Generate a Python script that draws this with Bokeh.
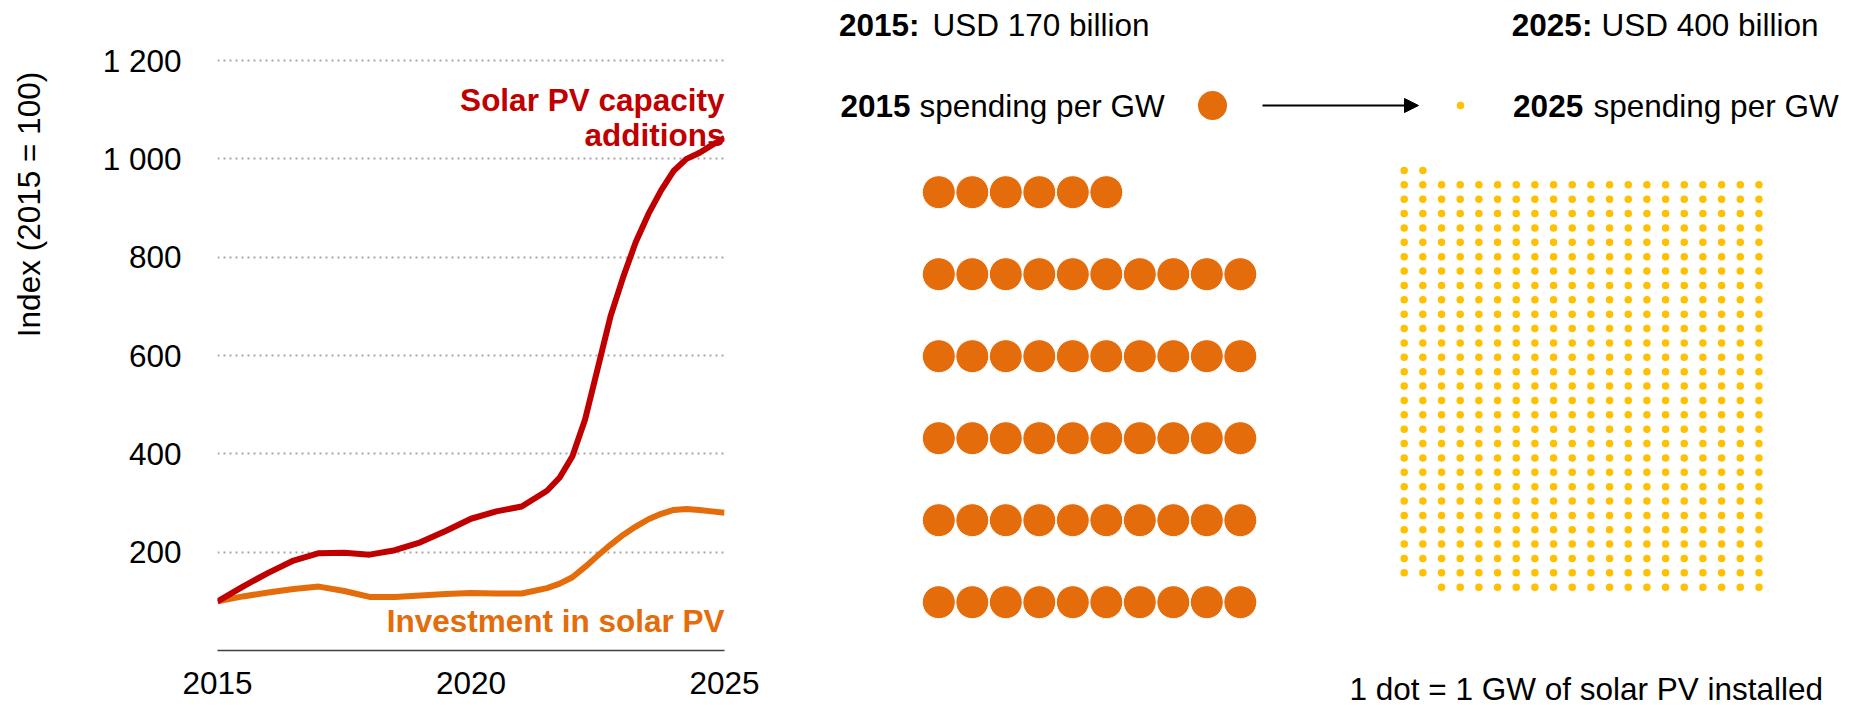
import math
from bokeh.plotting import figure
from bokeh.models import (Range1d, FixedTicker, Label, Arrow, NormalHead, Title,
                          CustomJSTickFormatter)
from bokeh.layouts import row
from bokeh.embed import file_html
from bokeh.resources import INLINE
from bokeh.core.properties import value

FONT = "Liberation Sans"
FS = "31.5px"
RED = "#C00000"
ORANGE = "#E46C0A"
YELLOW = "#FFC000"

# ---------------- data ----------------
years = [2015, 2015.5, 2016, 2016.5, 2017, 2017.5, 2018, 2018.5, 2019, 2019.5,
         2020, 2020.5, 2021, 2021.5, 2021.75, 2022, 2022.25, 2022.5, 2022.75,
         2023, 2023.25, 2023.5, 2023.75, 2024, 2024.25, 2024.5, 2024.75, 2025]
capacity_index = [100, 130, 158, 183, 198, 199, 195, 204, 220, 243,
                  268, 283, 293, 325, 352, 395, 470, 574, 679,
                  759, 831, 888, 936, 976, 1000, 1012, 1028, 1043]
investment_index = [100, 110, 118, 125, 130, 121, 109, 109, 112, 115,
                    117, 116, 116, 127, 136, 149, 170, 193, 215,
                    235, 252, 267, 278, 286, 288, 286, 283, 280]
y_ticks = [200, 400, 600, 800, 1000, 1200]
x_ticks = [2015, 2020, 2025]

spend_2015_bn = 170
spend_2025_bn = 400
gw_2015 = 56
gw_2025 = 580
cols_2015 = 10
cols_2025 = 20
top_row_2025 = 2
footnote = "1 dot = 1 GW of solar PV installed"

TOP, BOTTOM, H = 5, 55, 705


def blank(p):
    p.grid.visible = False
    p.outline_line_color = None
    p.background_fill_color = "white"
    p.border_fill_color = "white"


# ---------------- y-axis title strip ----------------
p0 = figure(width=60, height=H, x_range=Range1d(0, 60), y_range=Range1d(H - BOTTOM, TOP),
            output_backend="svg", toolbar_location=None,
            min_border_left=0, min_border_right=0, min_border_top=TOP, min_border_bottom=BOTTOM,
            x_axis_location=None, y_axis_location=None)
blank(p0)
p0.text([28], [204], text=["Index (2015 = 100)"], angle=math.pi / 2,
        text_font=value(FONT), text_font_size=FS, text_align="center",
        text_baseline="middle", text_color="black")

# ---------------- left chart ----------------
p1 = figure(width=708, height=H, x_range=Range1d(2015, 2025), y_range=Range1d(0, 1312),
            output_backend="svg", toolbar_location=None,
            min_border_left=157, min_border_right=44, min_border_top=TOP, min_border_bottom=BOTTOM)
p1.outline_line_color = None
p1.background_fill_color = "white"
p1.border_fill_color = "white"

p1.xgrid.visible = False
p1.yaxis.ticker = FixedTicker(ticks=y_ticks)
p1.ygrid.grid_line_color = "#A6A6A6"
p1.ygrid.grid_line_dash = "2 4"
p1.ygrid.grid_line_width = 2

p1.yaxis.axis_line_color = None
p1.yaxis.major_tick_line_color = None
p1.yaxis.minor_tick_line_color = None
p1.yaxis.major_label_standoff = 30
p1.yaxis.major_label_text_font = FONT
p1.yaxis.major_label_text_font_size = FS
p1.yaxis.major_label_text_color = "black"
p1.yaxis.formatter = CustomJSTickFormatter(
    code="const s = Math.round(tick).toString(); return s.replace(/\\B(?=(\\d{3})+(?!\\d))/g, ' ');")

p1.xaxis.ticker = FixedTicker(ticks=x_ticks)
p1.xaxis.axis_line_color = "#404040"
p1.xaxis.axis_line_width = 1.5
p1.xaxis.major_tick_line_color = None
p1.xaxis.minor_tick_line_color = None
p1.xaxis.major_label_standoff = 15
p1.xaxis.major_label_text_font = FONT
p1.xaxis.major_label_text_font_size = FS
p1.xaxis.major_label_text_color = "black"

p1.line(years, investment_index, line_color=ORANGE, line_width=6, line_join="round")
p1.line(years, capacity_index, line_color=RED, line_width=6, line_join="round")

for txt, yv in [("Solar PV capacity", 1119), ("additions", 1048)]:
    p1.add_layout(Label(x=2025, y=yv, text=txt, text_align="right", text_baseline="middle",
                        text_font=FONT, text_font_size=FS, text_font_style="bold",
                        text_color=RED))
p1.add_layout(Label(x=2025, y=61, text="Investment in solar PV", text_align="right",
                    text_baseline="middle", text_font=FONT, text_font_size=FS,
                    text_font_style="bold", text_color=ORANGE))

# ---------------- right infographic ----------------
free_frame = "frame_align" in figure.properties()

if free_frame:
    p2 = figure(width=1088, height=H, x_range=Range1d(768, 1856), y_range=Range1d(H, 0),
                output_backend="svg", toolbar_location=None, min_border=0,
                min_border_left=0, min_border_right=0, min_border_top=0, min_border_bottom=0,
                x_axis_location=None, y_axis_location=None)
    for p in (p0, p1, p2):
        p.frame_align = False
else:
    p2 = figure(width=1088, height=H, x_range=Range1d(768, 1856),
                y_range=Range1d(H - BOTTOM, TOP),
                output_backend="svg", toolbar_location=None,
                min_border_left=0, min_border_right=0, min_border_top=TOP,
                min_border_bottom=BOTTOM,
                x_axis_location=None, y_axis_location=None)
blank(p2)

# 2015 dots
x0, dx, y0, dy = 938.3, 33.5, 191.7, 82.0
first = gw_2015 % cols_2015
ox, oy = [], []
for k in range(gw_2015):
    if k < first:
        r, c = 0, k
    else:
        j = k - first
        r, c = 1 + j // cols_2015, j % cols_2015
    ox.append(x0 + c * dx)
    oy.append(y0 + r * dy)
p2.scatter(ox, oy, size=33, fill_color=ORANGE, line_color="white", line_width=1)

# 2025 dots
x0, dx, y0, dy = 1403.7, 18.67, 170.0, 14.37
rest = gw_2025 - top_row_2025
last_row = 1 + rest // cols_2025
shift = cols_2025 - rest % cols_2025
yx, yy = [], []
for k in range(gw_2025):
    if k < top_row_2025:
        r, c = 0, k
    else:
        j = k - top_row_2025
        r, c = 1 + j // cols_2025, j % cols_2025
        if r == last_row:
            c += shift
    yx.append(x0 + c * dx)
    yy.append(y0 + r * dy)
p2.scatter(yx, yy, size=7.5, fill_color=YELLOW, line_color=None)

# legend markers + arrow
p2.scatter([1212], [105], size=29, fill_color=ORANGE, line_color=None)
p2.scatter([1460], [105], size=7.5, fill_color=YELLOW, line_color=None)
p2.add_layout(Arrow(end=NormalHead(size=14, fill_color="black", line_color="black"),
                    x_start=1262, y_start=105, x_end=1418, y_end=105,
                    line_width=2, line_color="black"))

bold_txt = ["2015:", "2025:", "2015", "2025"]
bold_x = [838.5, 1511.3, 840, 1512.6]
bold_y = [24, 24, 105, 105]
p2.text(bold_x, bold_y, text=bold_txt, text_font=value(FONT), text_font_size=FS,
        text_font_style="bold", text_baseline="middle", text_align="left", text_color="black")

reg_txt = [f"USD {spend_2015_bn} billion", f"USD {spend_2025_bn} billion",
           "spending per GW", "spending per GW"]
reg_x = [932, 1601, 919, 1593]
reg_y = [24, 24, 105, 105]
if free_frame:
    reg_txt.append(footnote)
    reg_x.append(1349)
    reg_y.append(688)
p2.text(reg_x, reg_y, text=reg_txt, text_font=value(FONT), text_font_size=FS,
        text_baseline="middle", text_align="left", text_color="black")

if not free_frame:
    p2.add_layout(Title(text=footnote, align="left", offset=1349 - 768,
                        standoff=19, text_font=FONT, text_font_size=FS,
                        text_font_style="normal", text_color="black"), "below")

layout = row(p0, p1, p2)
open("out.html", "w").write(file_html(layout, INLINE))
